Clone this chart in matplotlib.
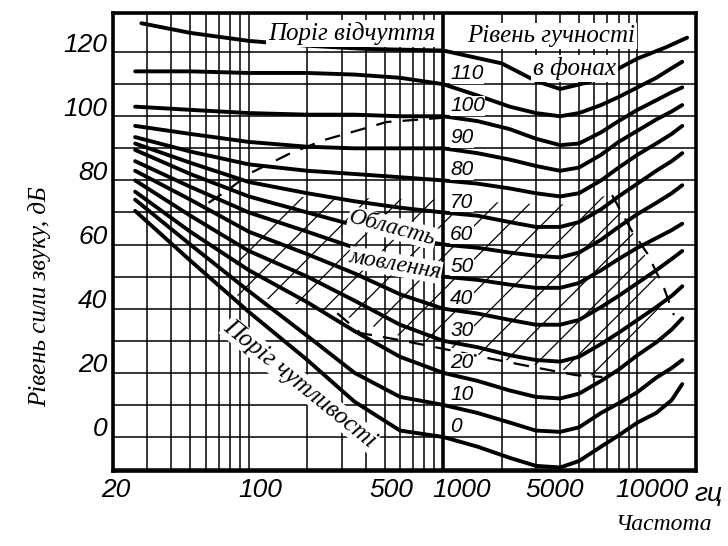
import matplotlib
matplotlib.use("Agg")
import matplotlib.pyplot as plt
from matplotlib.transforms import ScaledTranslation
from matplotlib.patches import Polygon

# ---------------- data ----------------
freq = [26, 50, 100, 200, 350, 600, 1000, 1500, 2200, 3000, 4000, 5000,
        6500, 8000, 10000, 12500, 15000, 17000]

phon_0 = [70.5, 55, 39, 24, 11, 2, 0, -3, -6.5, -9, -9.5, -7.5, -3, 0.5, 4.5, 7.5, 11.5, 16.5]
phon_10 = [74, 60, 45.5, 31.5, 20, 12.5, 10, 7.5, 4.5, 2, 1.6, 3, 7.5, 10.5, 14, 18.5, 21.5, 24]
phon_20 = [76.5, 64, 52, 42, 33, 25, 20, 17.5, 14.5, 12.5, 12, 13.5, 17.5, 21, 25.5, 29.5, 33.5, 37]
phon_30 = [80, 69, 58, 50, 42.5, 35, 30, 28, 25.5, 24, 23.5, 25, 29, 32.5, 36.5, 40.5, 44, 47]
phon_40 = [83, 74, 64, 57, 51, 44.5, 40, 38.5, 36.5, 35, 35, 36.5, 40.5, 44, 48, 52, 55.5, 58]
phon_50 = [86, 78, 70, 64, 59, 54, 50, 49, 47.5, 46.5, 46.5, 48, 52, 55.5, 59, 62, 64.5, 66.5]
phon_60 = [89.5, 82, 75, 70, 66, 62.5, 60, 59, 57.5, 56.5, 56, 57.5, 61.5, 65.5, 69.5, 73, 76, 78.5]
phon_70 = [91.5, 85.5, 79.5, 76, 73.5, 71.5, 70, 69, 67, 65.5, 65.5, 67, 71, 75, 79, 83, 86, 88.5]
phon_80 = [93.5, 89, 85, 83, 82, 81, 80, 79, 77.5, 76, 75, 76, 80, 84, 88, 91.5, 94.5, 97]
phon_90 = [97, 94.5, 92, 90.5, 90, 90, 90, 88.5, 86.5, 84.5, 83, 84, 88, 92, 95.5, 99, 101.5, 103.5]
phon_100 = [103, 102, 101, 100.5, 100.5, 100, 100, 98.5, 96, 93, 91, 91.5, 95, 98.5, 102, 105, 107.5, 109]
phon_110 = [114, 114, 113.5, 113.5, 113, 112, 110, 106.5, 103, 101, 100, 101, 103.5, 106, 109, 112, 115, 117]

phon_levels = [0, 10, 20, 30, 40, 50, 60, 70, 80, 90, 100, 110]
phon_curves = [phon_0, phon_10, phon_20, phon_30, phon_40, phon_50,
               phon_60, phon_70, phon_80, phon_90, phon_100, phon_110]

# threshold of feeling ("Поріг відчуття")
pain_freq = [28, 50, 100, 200, 400, 1000, 2000, 3000, 4000, 5500, 7500, 10000, 14000, 18000]
pain_db = [129, 126, 123.5, 122, 121, 120.5, 116.5, 111, 108.5, 110.5, 114, 118, 121.5, 124.5]

# speech area ("Область мовлення") dashed borders
speech_top_f = [62, 78, 102, 164, 244, 416, 510, 1090]
speech_top_db = [73, 77, 82.3, 88.5, 92.6, 96.6, 98.2, 99.7]
speech_right_f = [7400, 9300, 11300, 13700, 15400]
speech_right_db = [75.4, 64.5, 57, 46.4, 38]
speech_low_f = [285, 376, 600, 1000, 1700, 2800, 4800, 6600]
speech_low_db = [38.6, 32.4, 30.2, 27.5, 24.6, 22, 19.3, 18.7]

# hatched part of the speech area
hatch_f = [81, 100, 133, 965, 3900, 7200, 10300, 14000, 6460, 4200, 1670, 965, 572, 285, 141, 81]
hatch_db = [50, 64, 75, 74, 72.3, 75.4, 60, 42.7, 18.7, 20.9, 25, 28.7, 31.8, 38.6, 42.7, 44.3]

# axis ticks and grid
x_major = [20, 100, 500, 1000, 5000, 10000]
x_major_labels = ["20", "100", "500", "1000", "5000", "10000"]
x_label_shift_px = [3, 11, 7, 18, -24, 14]
x_grid = [30, 40, 50, 60, 70, 80, 90, 200, 300, 400, 600, 700, 800, 900,
          2000, 3000, 4000, 6000, 7000, 8000, 9000, 20000]
y_major = [0, 20, 40, 60, 80, 100, 120]
y_grid = [-10, 10, 30, 50, 70, 90, 110]

# ---------------- figure ----------------
NUM = ["Liberation Sans", "DejaVu Sans"]
SERIF = ["Liberation Serif", "DejaVu Serif"]
plt.rcParams["hatch.linewidth"] = 0.9

fig = plt.figure(figsize=(7.28, 5.46), dpi=100)
ax = fig.add_axes([0.1552, 0.1374, 0.8008, 0.8388])
ax.set_xscale("log")
ax.set_xlim(20, 20000)
ax.set_ylim(-10.6, 132.2)

ax.set_xticks(x_major)
ax.set_xticklabels(x_major_labels)
ax.set_xticks(x_grid, minor=True)
ax.set_xticklabels([], minor=True)
ax.set_yticks(y_major)
ax.set_yticklabels([str(v) for v in y_major])
ax.set_yticks(y_grid, minor=True)
ax.grid(True, which="both", color="black", linewidth=1.1)
ax.set_axisbelow(True)
ax.tick_params(which="both", length=0)
ax.tick_params(axis="x", pad=5)
ax.tick_params(axis="y", pad=4)
for lab, dx in zip(ax.get_xticklabels(), x_label_shift_px):
    lab.set_fontfamily(NUM)
    lab.set_fontstyle("italic")
    lab.set_fontsize(19)
    lab.set_transform(lab.get_transform() +
                      ScaledTranslation(dx / 100, 0, fig.dpi_scale_trans))
for lab in ax.get_yticklabels():
    lab.set_fontfamily(NUM)
    lab.set_fontstyle("italic")
    lab.set_fontsize(19)
    lab.set_transform(lab.get_transform() +
                      ScaledTranslation(0, 0.10, fig.dpi_scale_trans))

for sp in ax.spines.values():
    sp.set_linewidth(2.6)
ax.axvline(1000, color="black", linewidth=2.6)

# hatched speech area and its dashed borders
ax.add_patch(Polygon(list(zip(hatch_f, hatch_db)), closed=True, fill=False,
                     hatch="/", edgecolor="black", linewidth=0, zorder=2))
for fx, dy in [(speech_top_f, speech_top_db), (speech_right_f, speech_right_db),
               (speech_low_f, speech_low_db)]:
    ax.plot(fx, dy, color="black", linewidth=1.6, dashes=(7, 5), zorder=3)

# loudness curves
for curve in phon_curves:
    ax.plot(freq, curve, color="black", linewidth=2.8,
            solid_capstyle="round", solid_joinstyle="round", zorder=4)
ax.plot(pain_freq, pain_db, color="black", linewidth=2.8,
        solid_capstyle="round", solid_joinstyle="round", zorder=4)

# phon labels next to the 1000 Hz line
for p in phon_levels:
    ax.annotate(str(p), xy=(1000, p), xytext=(5, 7.5), textcoords="offset points",
                ha="left", va="center", fontsize=15, fontstyle="italic",
                fontfamily=NUM, zorder=6,
                bbox=dict(facecolor="white", edgecolor="none", pad=0.3))

# captions inside the plot
box = dict(facecolor="white", edgecolor="none", pad=1.5)
ax.text(0.41, 0.956, "Поріг відчуття", transform=ax.transAxes, ha="center",
        va="center", fontsize=18, fontstyle="italic", fontfamily=SERIF,
        bbox=box, zorder=7)
ax.text(0.752, 0.949, "Рівень гучності", transform=ax.transAxes, ha="center",
        va="center", fontsize=18, fontstyle="italic", fontfamily=SERIF,
        bbox=box, zorder=7)
ax.text(0.792, 0.878, "в фонах", transform=ax.transAxes, ha="center",
        va="center", fontsize=18, fontstyle="italic", fontfamily=SERIF,
        bbox=box, zorder=7)
ax.text(0.479, 0.531, "Область", transform=ax.transAxes, ha="center",
        va="center", fontsize=17, fontstyle="italic", fontfamily=SERIF,
        rotation=-15, rotation_mode="anchor", zorder=7,
        bbox=dict(facecolor="white", edgecolor="none", pad=0.5))
ax.text(0.484, 0.45, "мовлення", transform=ax.transAxes, ha="center",
        va="center", fontsize=17, fontstyle="italic", fontfamily=SERIF,
        rotation=-10, rotation_mode="anchor", zorder=7,
        bbox=dict(facecolor="white", edgecolor="none", pad=0.5))
ax.text(0.321, 0.19, "Поріг чутливості", transform=ax.transAxes, ha="center",
        va="center", fontsize=18, fontstyle="italic", fontfamily=SERIF,
        rotation=-39, rotation_mode="anchor", zorder=7,
        bbox=dict(facecolor="white", edgecolor="none", pad=0.5))

# axis titles
fig.text(0.055, 0.457, "Рівень сили звуку, дБ", rotation=90, ha="center",
         va="center", fontsize=18, fontstyle="italic", fontfamily=SERIF)
fig.text(0.912, 0.040, "Частота", ha="center", va="center", fontsize=17,
         fontstyle="italic", fontfamily=SERIF)
fig.text(0.992, 0.096, "гц", ha="right", va="center", fontsize=19,
         fontstyle="italic", fontfamily=NUM)

fig.savefig("out.png", dpi=100)
